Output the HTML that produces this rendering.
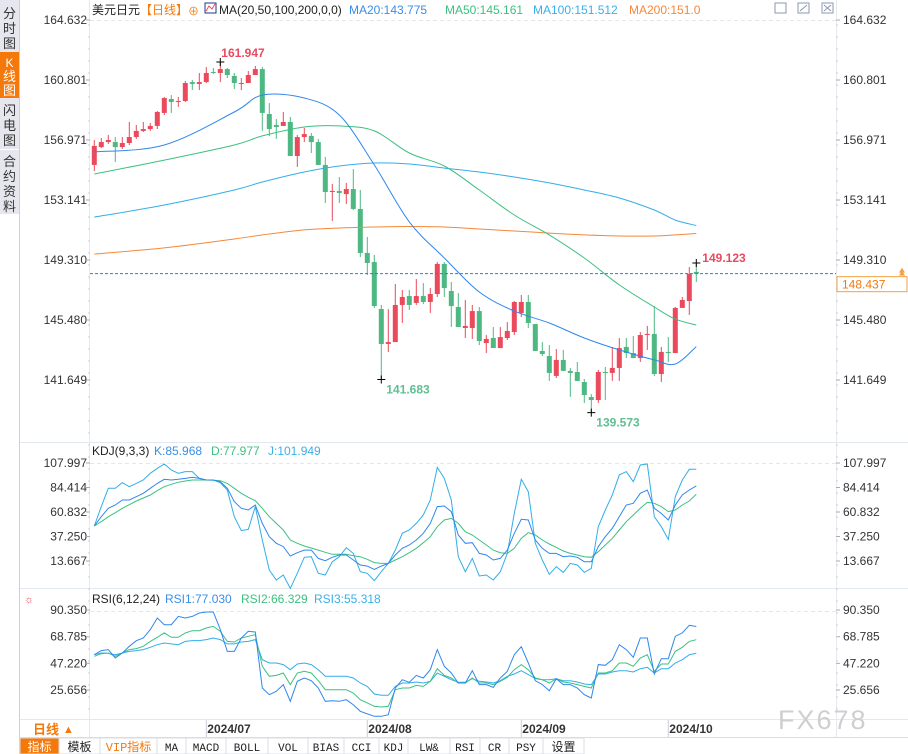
<!DOCTYPE html>
<html><head><meta charset="utf-8"><style>
html,body{margin:0;padding:0;background:#fff;width:908px;height:754px;overflow:hidden;}
svg{display:block;font-family:"Liberation Sans","Noto Sans CJK SC",sans-serif;}
.mono{font-family:"Liberation Mono","Noto Sans CJK SC",monospace;}
</style></head><body>
<svg id="chart" width="908" height="754" viewBox="0 0 908 754" xmlns="http://www.w3.org/2000/svg">
  <rect x="0" y="0" width="908" height="754" fill="#fff"/>
  <g>
    <rect x="0" y="0" width="19" height="214" fill="#e6e6ee"/>
    <line x1="19.5" y1="0" x2="19.5" y2="754" stroke="#cfcfd8"/>
    <g><text x="9.5" y="18" font-size="13" text-anchor="middle" fill="#333">分</text><text x="9.5" y="33" font-size="13" text-anchor="middle" fill="#333">时</text><text x="9.5" y="48" font-size="13" text-anchor="middle" fill="#333">图</text></g>
    <g><rect x="0" y="52" width="19" height="46" fill="#f5780a"/><text x="9.5" y="67" font-size="12" text-anchor="middle" fill="#fff">K</text><text x="9.5" y="81" font-size="13" text-anchor="middle" fill="#fff">线</text><text x="9.5" y="95" font-size="13" text-anchor="middle" fill="#fff">图</text></g>
    <g><text x="9.5" y="115" font-size="13" text-anchor="middle" fill="#333">闪</text><text x="9.5" y="130" font-size="13" text-anchor="middle" fill="#333">电</text><text x="9.5" y="145" font-size="13" text-anchor="middle" fill="#333">图</text></g>
    <line x1="0" y1="149.5" x2="19" y2="149.5" stroke="#fff"/>
    <g><text x="9.5" y="166" font-size="13" text-anchor="middle" fill="#333">合</text><text x="9.5" y="181" font-size="13" text-anchor="middle" fill="#333">约</text><text x="9.5" y="196" font-size="13" text-anchor="middle" fill="#333">资</text><text x="9.5" y="211" font-size="13" text-anchor="middle" fill="#333">料</text></g>
  </g>
  <line x1="89.5" y1="0" x2="89.5" y2="738" stroke="#e6eaef"/>
  <line x1="836.5" y1="0" x2="836.5" y2="738" stroke="#e6eaef"/>
  <line x1="20" y1="442.5" x2="908" y2="442.5" stroke="#e3e8ee"/>
  <line x1="20" y1="588.5" x2="908" y2="588.5" stroke="#e3e8ee"/>
  <line x1="20" y1="719.5" x2="908" y2="719.5" stroke="#e3e8ee"/>
  <line x1="90" y1="20.5" x2="836" y2="20.5" stroke="#e6e6e6" stroke-dasharray="4,3"/>
  <line x1="90" y1="463.5" x2="836" y2="463.5" stroke="#e6e6e6" stroke-dasharray="4,3"/>
  <line x1="90" y1="611.5" x2="836" y2="611.5" stroke="#e6e6e6" stroke-dasharray="4,3"/>

  <g font-size="12">
    <text x="92" y="14" fill="#222">美元日元</text>
    <text x="140" y="14" fill="#f5780a">【日线】</text>
    <text x="188" y="15" fill="#f5780a" font-size="11">⊕</text>
    <rect x="205" y="3" width="11" height="10" fill="#fff" stroke="#1b3a8a"/>
    <polyline points="206,11 209,6 212,9 215,4" fill="none" stroke="#e84a5f" stroke-width="1"/>
    <text x="219" y="14" fill="#222">MA(20,50,100,200,0,0)</text>
    <text x="349" y="14" fill="#3a8ee8">MA20:143.775</text>
    <text x="445" y="14" fill="#3cc080">MA50:145.161</text>
    <text x="533" y="14" fill="#39b0e8">MA100:151.512</text>
    <text x="629" y="14" fill="#f5883a">MA200:151.0</text>
  </g>
  <g stroke="#8a99b0" fill="none">
    <rect x="775" y="3" width="11" height="10"/><rect x="798" y="3" width="11" height="10"/><rect x="822" y="3" width="11" height="10"/>
    <path d="M800 11 L807 5 M824 5 L831 11 M824 11 L831 5"/>
  </g>
  <g font-size="12">
    <text x="92" y="455" fill="#222">KDJ(9,3,3)</text>
    <text x="154" y="455" fill="#3a8ee8">K:85.968</text>
    <text x="211" y="455" fill="#3cc080">D:77.977</text>
    <text x="268" y="455" fill="#39b0e8">J:101.949</text>
  </g>
  <g font-size="12">
    <text x="24" y="603" fill="#e84a5f" font-size="11">☼</text>
    <text x="92" y="603" fill="#222">RSI(6,12,24)</text>
    <text x="165" y="603" fill="#3a8ee8">RSI1:77.030</text>
    <text x="241" y="603" fill="#3cc080">RSI2:66.329</text>
    <text x="314" y="603" fill="#39b0e8">RSI3:55.318</text>
  </g>

  <g id="axes"></g>
  <g id="marks"></g>

  <g>
    <text x="33" y="734" font-size="13" font-weight="bold" fill="#f5780a">日线</text>
    <text x="63" y="733" font-size="11" fill="#f5780a">▲</text>
  </g>
  <line x1="20" y1="737.5" x2="908" y2="737.5" stroke="#d8dde3"/>
  <g id="toolbar" class="mono" font-size="11"></g>
  <text x="778" y="729" font-size="27" fill="#cfcfcf" letter-spacing="2">FX678</text>
</svg>
<script>
const priceTicks=[164.632,160.801,156.971,153.141,149.310,145.480,141.649];
const kdjTicks=[107.997,84.414,60.832,37.250,13.667];
const rsiTicks=[90.350,68.785,47.220,25.656];
const dateLabels=["2024/07","2024/08","2024/09","2024/10"];
const dateIndex=[16,39,61,82];
const openP=[155.38,156.52,156.84,156.84,156.52,156.78,157.16,157.55,157.67,157.87,158.70,159.59,159.40,159.46,160.67,160.55,160.67,161.31,161.25,161.50,161.06,160.55,160.61,161.12,161.50,158.63,157.93,157.87,158.12,155.95,157.16,157.23,156.84,155.38,153.65,153.72,153.52,153.84,152.57,149.76,149.18,146.18,143.95,144.07,146.44,147.01,146.57,147.01,146.63,147.14,149.06,147.33,146.31,144.97,144.97,146.05,144.01,144.33,143.69,144.33,144.71,145.93,146.63,145.22,143.50,143.18,141.91,142.93,142.23,142.16,141.52,140.56,140.37,142.16,142.10,142.42,143.76,143.37,143.05,144.52,144.59,142.03,143.44,143.37,146.25,146.69,148.55];
const closeP=[156.59,156.84,156.97,156.52,156.78,157.16,157.55,157.67,157.87,158.76,159.65,159.40,159.46,160.61,160.55,160.67,161.25,161.25,161.50,161.12,160.61,160.61,161.12,161.50,158.70,157.67,157.80,158.12,155.95,157.16,157.35,156.84,155.38,153.65,153.72,153.59,153.84,152.57,149.76,149.12,146.37,143.95,144.07,146.44,146.95,146.44,147.01,146.63,147.14,149.06,147.52,146.37,145.03,145.10,146.05,144.14,144.27,143.69,144.39,144.78,146.63,146.63,145.29,143.50,143.31,142.10,142.93,142.23,142.10,141.59,140.69,140.37,142.16,142.10,142.42,143.69,143.37,143.05,144.52,144.59,142.03,143.44,143.37,146.25,146.76,148.42,148.44];
const highP=[156.97,157.10,157.29,157.16,157.16,158.12,157.93,158.12,158.06,158.82,159.72,159.84,159.72,160.74,160.80,161.25,161.63,161.57,161.95,161.57,161.25,160.93,161.38,161.70,161.63,159.33,158.31,158.76,158.44,157.29,157.74,157.42,157.04,155.89,154.16,154.61,154.23,155.12,153.78,150.78,149.63,146.44,146.18,147.78,147.40,147.40,148.10,147.84,147.52,149.18,149.18,147.91,147.20,146.76,146.44,146.31,144.52,145.03,145.03,145.35,146.69,147.08,147.08,145.22,144.07,143.88,143.63,143.57,142.42,142.80,141.71,140.75,142.29,142.48,143.76,144.33,144.33,144.46,144.71,145.10,146.37,143.76,144.39,146.31,146.95,148.86,149.12];
const lowP=[154.99,156.46,156.72,155.57,156.40,156.65,157.04,157.48,157.55,157.67,158.57,158.70,159.08,159.40,160.16,160.16,160.61,161.19,160.67,160.93,160.23,160.16,160.61,161.12,157.55,157.23,157.04,157.87,155.95,155.25,156.84,156.14,155.38,152.95,151.80,152.95,152.89,152.50,149.50,148.35,146.25,141.68,143.44,144.07,145.29,146.12,146.44,146.50,145.93,146.95,146.95,145.03,145.03,144.33,144.27,143.88,143.37,143.69,143.69,144.20,144.52,145.67,144.97,143.50,143.18,141.59,141.78,142.23,140.57,141.59,140.18,139.57,140.18,140.37,141.59,141.59,143.05,143.05,142.80,143.57,141.91,141.52,142.80,143.37,146.25,145.80,147.91];
const maIdx=[0,10,20,24,30,35,40,45,50,55,60,65,70,75,80,83,86];
const ma20=[156.21,156.65,158.76,159.84,159.65,158.57,155.38,151.74,149.44,147.27,146.05,145.29,144.33,143.57,142.93,142.67,143.78];
const ma50=[154.80,155.69,156.65,157.23,157.80,157.87,157.55,156.14,155.31,153.78,152.18,150.91,149.44,147.72,146.31,145.54,145.16];
const ma100=[152.05,152.82,153.78,154.29,154.93,155.31,155.50,155.44,155.18,154.93,154.61,154.23,153.78,153.27,152.50,151.86,151.51];
const ma200=[149.69,150.08,150.65,150.91,151.23,151.35,151.42,151.45,151.42,151.29,151.16,151.03,150.91,150.84,150.84,150.91,151.00];
const kVals=[47.4,56.3,64.4,67.6,72.4,72.4,75.6,78.8,83.6,88.4,92.3,91.6,92.3,93.2,94.2,93.2,91.6,91.6,90.0,83.6,70.8,64.4,62.8,67.6,49.9,37.1,30.7,27.5,18.5,21.7,24.2,24.2,16.2,14.0,17.2,19.4,19.4,14.6,9.8,8.8,5.6,8.8,11.4,19.4,25.9,29.1,33.9,40.3,49.9,66.0,66.6,61.2,38.7,30.7,31.3,21.0,19.4,14.6,16.2,24.2,40.3,53.8,53.1,33.9,25.9,21.0,21.0,17.8,18.5,17.2,13.0,13.0,27.5,37.1,45.1,56.3,67.6,69.2,78.8,82.0,64.4,59.5,53.1,67.6,77.2,82.0,86.0];
const dVals=[47.4,51.5,56.3,60.2,64.4,67.9,71.4,74.3,77.2,81.4,85.2,87.5,89.4,90.7,91.6,91.6,91.6,91.3,91.0,88.4,83.6,78.8,75.0,71.7,64.4,56.3,49.9,43.5,33.9,30.7,28.1,26.2,24.2,22.0,20.1,20.1,20.1,18.8,17.8,15.3,12.1,11.4,11.4,14.6,17.8,21.7,25.9,31.3,37.1,46.7,53.1,54.7,49.9,41.9,38.7,33.9,29.1,24.2,21.7,21.0,25.9,35.5,40.9,38.7,33.9,30.0,26.8,23.3,21.0,19.4,17.8,17.2,22.6,29.1,35.5,43.5,51.5,57.9,64.4,70.1,69.2,66.0,61.2,62.8,67.6,71.4,78.0];
const jVals=[47.4,66.0,83.6,83.6,89.1,85.2,88.4,91.6,98.1,102.9,107.0,101.3,98.1,99.7,99.7,93.2,91.6,91.6,89.1,82.0,56.3,42.9,44.1,66.0,33.9,5.0,-4.6,0.2,-12.7,1.8,17.2,17.8,1.8,0.2,13.0,17.8,26.5,21.0,3.4,1.8,-5.3,3.4,11.4,24.2,40.3,43.5,49.9,57.9,72.4,103.8,93.2,72.4,17.8,3.4,16.2,-0.8,0.2,-4.6,3.4,21.0,59.5,92.3,80.4,30.7,14.6,0.8,8.2,2.7,11.4,9.8,2.7,6.6,46.7,62.8,77.2,96.5,99.7,90.0,106.1,107.0,56.3,46.7,34.5,75.6,91.6,101.9,101.9];
const rsi1=[54.2,57.5,58.3,51.5,55.6,61.0,65.5,67.7,74.5,83.9,78.5,78.5,85.2,83.9,85.2,87.9,88.7,88.7,74.5,56.9,56.9,67.7,73.1,72.6,27.3,21.9,24.6,30.0,16.5,32.7,35.4,33.2,27.3,16.5,17.0,16.5,17.8,13.8,8.4,6.3,4.4,4.4,5.7,27.3,34.0,31.9,37.5,35.4,42.1,58.3,44.8,39.4,31.3,31.3,41.3,30.0,30.0,27.8,35.4,40.8,54.2,60.7,47.5,33.2,30.0,25.1,34.8,30.0,30.0,27.3,21.9,19.2,46.2,45.6,50.2,62.3,58.3,52.1,67.7,67.7,38.6,51.0,51.0,69.1,71.8,78.0,77.0];
const rsi2=[52.9,55.0,55.6,52.9,55.6,58.3,59.1,61.0,65.0,68.3,71.8,68.3,68.3,71.8,73.6,73.6,75.8,77.1,73.1,65.0,64.5,67.7,69.1,70.4,44.8,36.7,37.5,39.4,30.0,39.4,40.8,39.4,33.2,25.9,25.9,25.9,25.9,23.2,17.8,15.2,12.5,11.9,12.5,25.9,27.3,27.3,29.4,28.6,32.7,42.9,37.5,35.4,31.3,31.3,35.4,31.3,31.3,30.0,32.7,35.9,42.1,46.2,42.1,35.4,34.0,31.3,34.8,32.1,31.3,30.0,28.6,27.3,39.4,39.4,41.3,47.5,47.5,44.8,51.5,54.2,40.8,46.7,46.7,56.9,60.2,65.0,66.3];
const rsi3=[54.2,55.6,55.3,54.2,55.6,56.9,57.5,58.3,60.2,62.3,63.7,62.9,62.3,65.0,65.6,65.6,66.4,67.7,66.4,62.9,62.9,64.5,65.0,66.4,50.2,47.5,47.5,46.2,42.1,46.7,47.5,46.2,42.1,36.7,36.7,36.7,36.7,35.4,31.3,28.6,22.4,21.4,21.4,28.6,31.3,31.3,32.1,31.3,32.7,39.4,36.7,34.0,31.9,31.9,34.8,32.7,32.1,31.3,33.2,36.7,38.6,41.3,38.1,34.8,34.0,34.0,34.8,33.2,33.2,32.1,30.5,30.0,38.6,38.6,40.2,41.3,41.3,40.2,42.9,44.0,39.4,42.9,42.9,47.5,50.2,54.2,55.3];
const lastPrice=148.437;
const toolbarItems=["指标","模板","VIP指标","MA","MACD","BOLL","VOL","BIAS","CCI","KDJ","LW&","RSI","CR","PSY","设置"];

const NS="http://www.w3.org/2000/svg";
function xi(i){return 94.3+7*i;}
function py(p){return 20+(164.632-p)*15.664;}
function ky(v){return 463+(107.997-v)*1.0389;}
function ry(v){return 610+(90.35-v)*1.2367;}
function mk(tag,attrs,parent){const e=document.createElementNS(NS,tag);for(const k in attrs)e.setAttribute(k,attrs[k]);parent.appendChild(e);return e;}
const RED="#ea4a5c",GREEN="#4db882",C20="#2f87ee",C50="#3cc080",C100="#33aee8",C200="#f5883a";
const axes=document.getElementById("axes"),marks=document.getElementById("marks");

function axisLabels(ticks,fy,name){
  ticks.forEach((t)=>{
    const y=fy(t);
    const l=mk("text",{x:87,y:y+4,"font-size":12,"text-anchor":"end",fill:"#333"},axes);
    l.textContent=t.toFixed(3);
    
    
    const r=mk("text",{x:843,y:y+4,"font-size":12,fill:"#333"},axes);
    r.textContent=t.toFixed(3);
    
    
    mk("line",{x1:86,x2:90,y1:y,y2:y,stroke:"#aab"},axes);
    mk("line",{x1:836,x2:840,y1:y,y2:y,stroke:"#aab"},axes);
  });
}
axisLabels(priceTicks,py,"price");
axisLabels(kdjTicks,ky,"kdj");
axisLabels(rsiTicks,ry,"rsi");
for(let y=25;y<715;y+=12){mk("line",{x1:88,x2:90,y1:y,y2:y,stroke:"#ccd"},axes);mk("line",{x1:836,x2:838,y1:y,y2:y,stroke:"#ccd"},axes);}

dateLabels.forEach((d,k)=>{
  const x=xi(dateIndex[k]);
  mk("line",{x1:x,x2:x,y1:720,y2:737,stroke:"#ccd"},axes);
  const t=mk("text",{x:x+1,y:733,"font-size":12,"font-weight":"bold",fill:"#333"},axes);
  t.textContent=d;
  
  
});

for(let i=0;i<openP.length;i++){
  const up=closeP[i]>=openP[i];
  const col=up?RED:GREEN;
  const x=xi(i);
  const g=mk("g",{},marks);
  
  
  mk("line",{x1:x,x2:x,y1:py(highP[i]),y2:py(lowP[i]),stroke:col,"stroke-width":1},g);
  const top=py(Math.max(openP[i],closeP[i])),bot=py(Math.min(openP[i],closeP[i]));
  mk("rect",{x:x-2.5,y:top,width:5,height:Math.max(1,bot-top),fill:col},g);
}
function line(idx,vals,fy,col,name,smooth){
  const P=vals.map((v,k)=>[xi(idx?idx[k]:k),fy(v)]);
  let d="M"+P[0][0].toFixed(1)+" "+P[0][1].toFixed(1);
  for(let k=0;k<P.length-1;k++){
    if(smooth){
      const p0=P[Math.max(0,k-1)],p1=P[k],p2=P[k+1],p3=P[Math.min(P.length-1,k+2)];
      const c1=[p1[0]+(p2[0]-p0[0])/6,p1[1]+(p2[1]-p0[1])/6],c2=[p2[0]-(p3[0]-p1[0])/6,p2[1]-(p3[1]-p1[1])/6];
      d+=` C${c1[0].toFixed(1)} ${c1[1].toFixed(1)} ${c2[0].toFixed(1)} ${c2[1].toFixed(1)} ${p2[0].toFixed(1)} ${p2[1].toFixed(1)}`;
    } else d+=` L${P[k+1][0].toFixed(1)} ${P[k+1][1].toFixed(1)}`;
  }
  const p=mk("path",{d:d,fill:"none",stroke:col,"stroke-width":1},marks);
  
  
}
line(maIdx,ma200,py,C200,"ma200-line",true);
line(maIdx,ma100,py,C100,"ma100-line",true);
line(maIdx,ma50,py,C50,"ma50-line",true);
line(maIdx,ma20,py,C20,"ma20-line",true);
line(null,dVals,ky,C50,"kdj-d-line");
line(null,jVals,ky,C100,"kdj-j-line");
line(null,kVals,ky,C20,"kdj-k-line");
line(null,rsi3,ry,C100,"rsi3-line");
line(null,rsi2,ry,C50,"rsi2-line");
line(null,rsi1,ry,C20,"rsi1-line");

const ly=py(lastPrice);
const dl=mk("line",{x1:90,x2:836,y1:ly,y2:ly,stroke:"#1e7ff0","stroke-dasharray":"3,2"},marks);


const tag=mk("rect",{x:837,y:ly+3,width:70,height:15,fill:"#fff",stroke:"#f5a040"},marks);


const tt=mk("text",{x:842,y:ly+15,"font-size":12,fill:"#f5780a"},marks);
tt.textContent=lastPrice.toFixed(3);
mk("path",{d:`M899 ${ly-1} L902 ${ly-6} L905 ${ly-1} Z M899 ${ly+2} L902 ${ly-3} L905 ${ly+2}`,fill:"#f5a040",stroke:"none"},marks);

function annot(i,val,txt,col,dx,dy,name){
  const x=xi(i),y=py(val);
  mk("path",{d:`M${x-4} ${y} H${x+4} M${x} ${y-4} V${y+4}`,stroke:"#000"},marks);
  const t=mk("text",{x:x+dx,y:y+dy,"font-size":12,"font-weight":"bold",fill:col},marks);
  t.textContent=txt;
  
  
}
annot(18,highP[18],"161.947","#e84a5f",1,-5,"high-annotation");
annot(41,lowP[41],"141.683","#5fbf94",5,14,"low-annotation-aug");
annot(71,lowP[71],"139.573","#5fbf94",5,14,"low-annotation-sep");
annot(86,highP[86],"149.123","#e84a5f",6,-1,"last-high-annotation");

const tb=document.getElementById("toolbar");
const tbX=[20,59,100,157,186,226,268,308,344,379,408,450,480,509,543,584];
toolbarItems.forEach((s,k)=>{
  const x0=tbX[k],x1=tbX[k+1];
  const g=mk("g",{},tb);
  
  
  mk("rect",{x:x0,y:738,width:x1-x0,height:16,fill:k===0?"#f5780a":"#fff",stroke:"#d8dde3"},g);
  const t=mk("text",{x:(x0+x1)/2,y:751,"text-anchor":"middle","font-size":k<3||k===14?12:11,fill:k===0?"#fff":(k===2?"#f5780a":"#222")},g);
  t.textContent=s;
});
</script>
</body></html>
